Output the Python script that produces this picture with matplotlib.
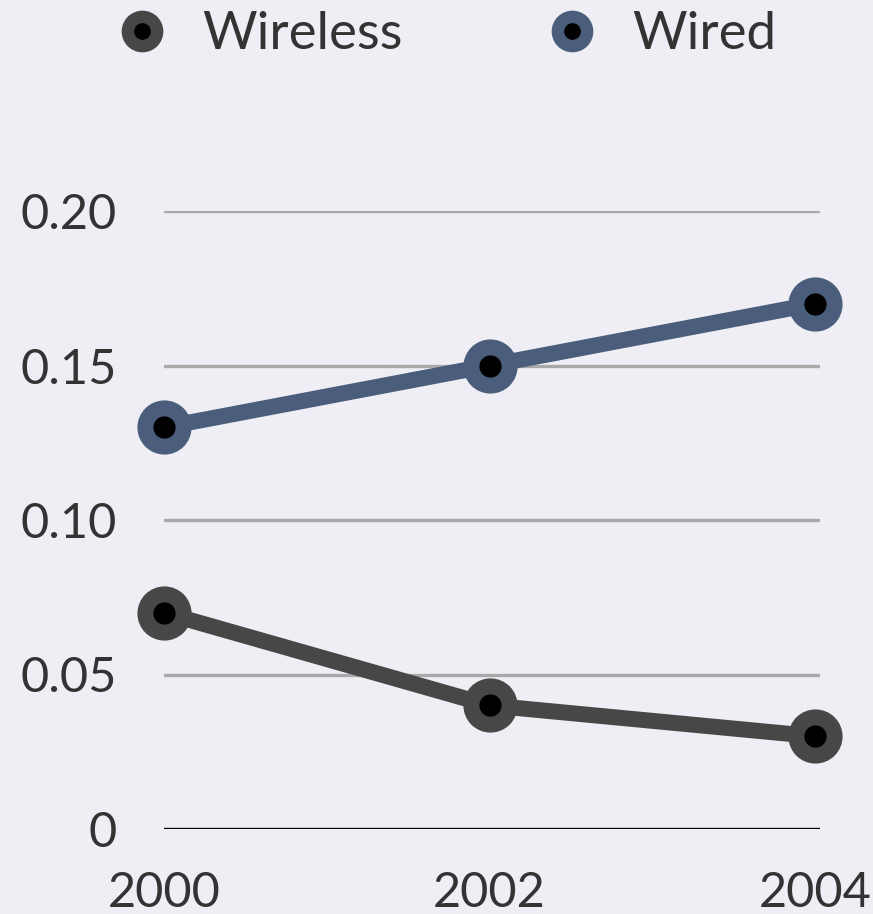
import matplotlib.pyplot as plt
from matplotlib.legend_handler import HandlerTuple
from matplotlib.lines import Line2D

years = [2000, 2002, 2004]
wireless = [0.07, 0.04, 0.03]
wired = [0.13, 0.15, 0.17]
yticks = [0, 0.05, 0.10, 0.15, 0.20]
ytick_labels = ["0", "0.05", "0.10", "0.15", "0.20"]

bg = "#efeef4"
c_wireless = "#474747"
c_wired = "#4a5e7b"
txt = "#333333"

plt.rcParams['font.family'] = ['Lato', 'DejaVu Sans']

fig = plt.figure(figsize=(8.73, 9.14), dpi=100, facecolor=bg)
ax = fig.add_axes([164/873, 85/914, (820-164)/873, (829-211)/914])
ax.set_facecolor(bg)

for v in yticks[1:]:
	ax.axhline(v, color="#a9a9a9", lw=2.4, zorder=1)
ax.axhline(0, color="black", lw=2.4, zorder=1)

for vals, col in [(wireless, c_wireless), (wired, c_wired)]:
	ax.plot(years, vals, '-', color=col, lw=11.5, zorder=3, clip_on=False, solid_capstyle='butt')
	ax.plot(years, vals, 'o', color=col, ms=38, zorder=4, clip_on=False)
	ax.plot(years, vals, 'o', color='black', ms=15, zorder=5, clip_on=False)

ax.set_xlim(2000, 2004.03)
ax.set_ylim(0, 0.20)
ax.set_xticks(years)
ax.set_xticklabels([str(y) for y in years])
ax.set_yticks(yticks)
ax.set_yticklabels(ytick_labels)
ax.tick_params(length=0, labelsize=35, colors=txt)
ax.tick_params(axis='y', pad=34)
ax.tick_params(axis='x', pad=30)
for s in ax.spines.values():
	s.set_visible(False)

# legend handle: coloured disc with a black dot on top
def handle(col):
	outer = Line2D([], [], marker='o', ls='none', color=col, ms=29)
	inner = Line2D([], [], marker='o', ls='none', color='black', ms=11)
	return (outer, inner)

fig.legend([handle(c_wireless), handle(c_wired)], ["Wireless", "Wired"],
	handler_map={tuple: HandlerTuple(ndivide=1)},
	loc='center', bbox_to_anchor=(0.511, 0.962), ncol=2, frameon=False,
	fontsize=38, labelcolor=txt, columnspacing=2.7, handletextpad=0.65, handlelength=1.0)

fig.savefig("out.png", dpi=100, facecolor=bg)
